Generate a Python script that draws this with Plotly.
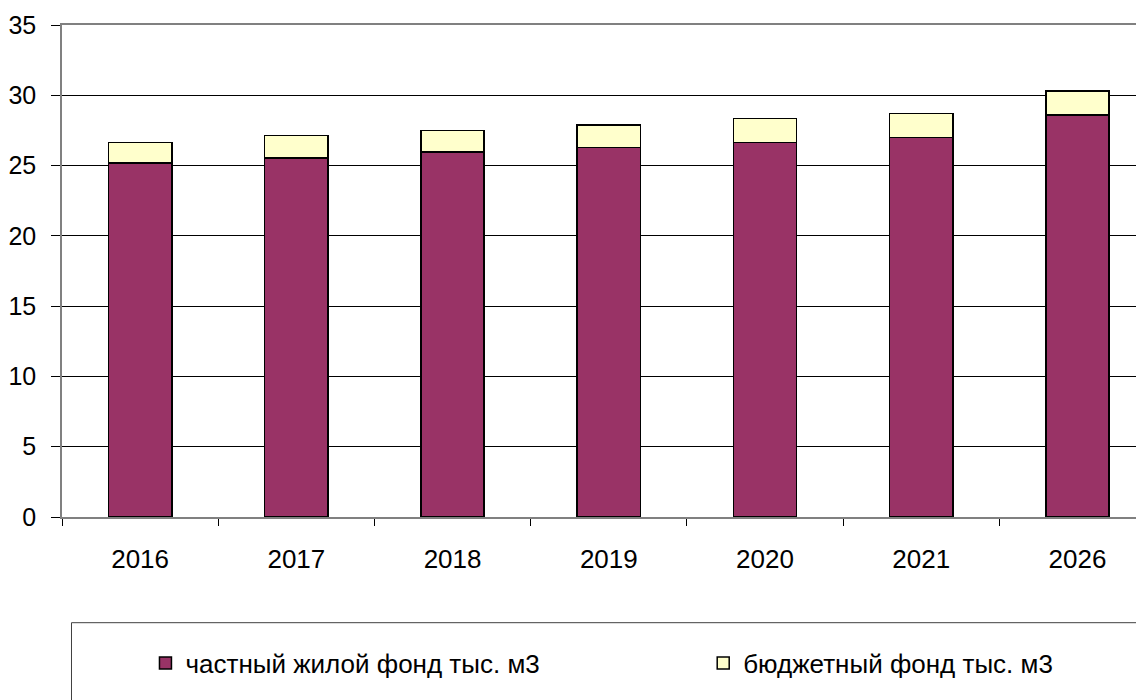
import plotly.graph_objects as go

years = ["2016", "2017", "2018", "2019", "2020", "2021", "2026"]
private_fund = [25.2, 25.55, 25.95, 26.3, 26.65, 27.0, 28.6]
budget_fund = [1.45, 1.6, 1.55, 1.6, 1.7, 1.7, 1.7]
names = ["частный жилой фонд тыс. м3", "бюджетный фонд тыс. м3"]

# page body has an 8px margin, so the figure is drawn 8px in from the window edge
OFF = 8
LEFT_PX = 61.5  # where the plot area should start in the window
W, H = 1144 - OFF, 700 - OFF
L, T = LEFT_PX - OFF, 25 - OFF
B = H - (517 - OFF)
plot_w = W - L
plot_h = H - T - B
cat_px = 156.3


def px_x(p):
    return (p - LEFT_PX) / plot_w


def px_y(p):
    return (517 - p) / plot_h


font = "Liberation Sans, Arial, sans-serif"

fig = go.Figure()
fig.add_trace(go.Bar(x=years, y=private_fund, name=names[0], legend="legend",
                     marker=dict(color="#993366", line=dict(color="black", width=1.5))))
fig.add_trace(go.Bar(x=years, y=budget_fund, name=names[1], legend="legend2",
                     marker=dict(color="#FFFFCC", line=dict(color="black", width=1.5))))

leg = dict(orientation="h", xanchor="left", yanchor="middle", y=px_y(663),
           bgcolor="rgba(0,0,0,0)", borderwidth=0, font=dict(size=26))

fig.update_layout(
    width=W, height=H,
    barmode="stack", bargap=0.595,
    margin=dict(l=L, r=0, t=T, b=B),
    plot_bgcolor="white", paper_bgcolor="white",
    font=dict(family=font, size=26, color="black"),
    legend=dict(leg, x=px_x(145)),
    legend2=dict(leg, x=px_x(703)),
    showlegend=True,
)
fig.update_xaxes(
    range=[-0.5, -0.5 + plot_w / cat_px],
    showline=True, linecolor="#808080", linewidth=1.5, mirror=True,
    ticks="outside", tickson="boundaries", ticklen=7, tickcolor="black",
    ticklabelstandoff=18, automargin=False,
    showgrid=False, fixedrange=True,
)
fig.update_yaxes(
    range=[0, 35], dtick=5,
    showline=True, linecolor="#808080", linewidth=1.5,
    ticks="outside", ticklen=9, tickcolor="black",
    tickfont=dict(size=25), ticklabelstandoff=10, automargin=False,
    showgrid=True, gridcolor="black", gridwidth=1,
    zeroline=False,
)
fig.add_shape(type="rect", xref="paper", yref="paper",
              x0=px_x(71), x1=px_x(1160), y0=px_y(622.7), y1=px_y(720),
              line=dict(color="#404040", width=1), fillcolor="rgba(0,0,0,0)",
              layer="below")

fig.write_html("out.html")
